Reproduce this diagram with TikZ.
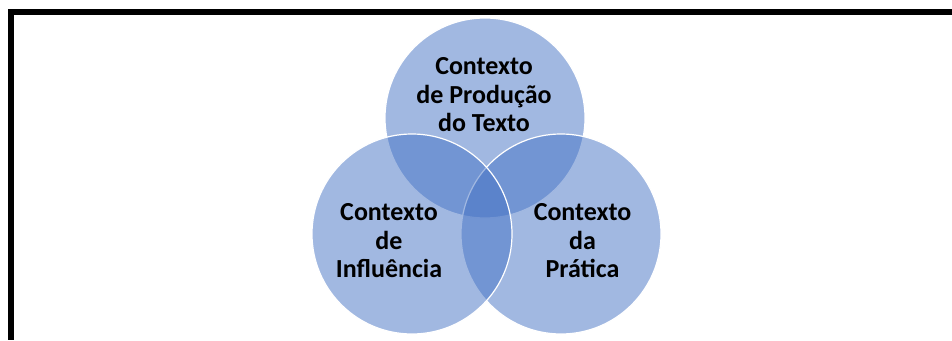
\documentclass[tikz,border=0pt]{standalone}
\usepackage{fontspec}
\setmainfont{Carlito}
\definecolor{accent}{HTML}{4472C4}
\begin{document}
\begin{tikzpicture}[x=1pt,y=-1pt,
  venn/.style={circle, minimum size=200pt, inner sep=0pt, fill=accent, fill opacity=0.5, draw=white, line width=1.2pt},
  vennlabel/.style={font=\fontsize{26}{28.5}\selectfont\bfseries, align=center, text=black, inner sep=0pt}]
\useasboundingbox (0,0) rectangle (952,340);
\node[venn] (top) at (485,118) {};
\node[venn] (right) at (561,234) {};
\node[venn] (left) at (412,234) {};
\node[vennlabel] (ttop) at (484,95) {Contexto\\de Produção\\do Texto};
\node[vennlabel] (tleft) at (389,241) {Contexto\\de\\Influência};
\node[vennlabel] (tright) at (582.5,241) {Contexto\\da\\Prática};
\draw[line width=6pt] (952,12) -- (11,12) -- (11,340);
\end{tikzpicture}
\end{document}
